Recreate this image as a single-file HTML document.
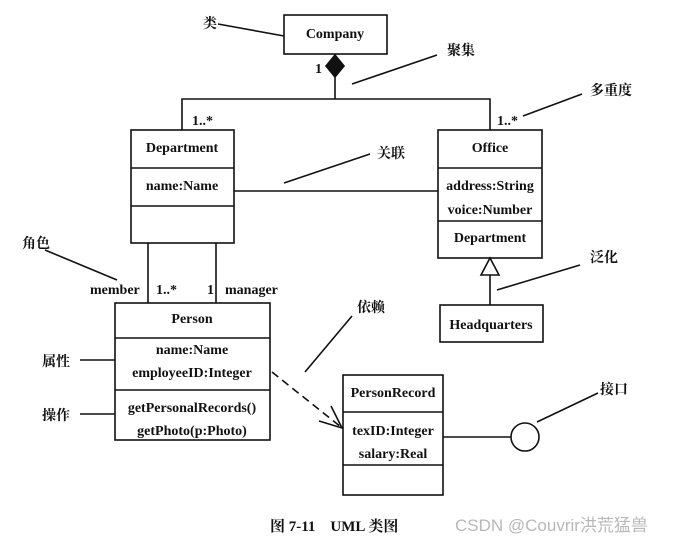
<!DOCTYPE html>
<html><head><meta charset="utf-8"><style>
body{margin:0;background:#fff}
svg{display:block}
text{font-family:"Liberation Serif","Noto Serif CJK SC",serif;font-size:14px;fill:#111;font-weight:bold}
.c{font-family:"Liberation Sans","Noto Sans CJK SC",sans-serif;font-weight:bold;font-size:14px}
</style></head><body>
<svg width="679" height="544" viewBox="0 0 679 544" xmlns="http://www.w3.org/2000/svg">
<g stroke="#111" stroke-width="1.6" fill="none">
<rect x="284" y="15" width="103" height="39"/>
<polygon points="335,55 344,66 335,77 326,66" fill="#111"/>
<line x1="335" y1="77" x2="335" y2="99"/>
<polyline points="182,130 182,99 490,99 490,130"/>
<rect x="131" y="130" width="103" height="113"/>
<line x1="131" y1="168" x2="234" y2="168"/>
<line x1="131" y1="206" x2="234" y2="206"/>
<rect x="438" y="130" width="104" height="128"/>
<line x1="438" y1="168" x2="542" y2="168"/>
<line x1="438" y1="221" x2="542" y2="221"/>
<line x1="234" y1="191" x2="438" y2="191"/>
<polygon points="490,258 499,275 481,275" fill="#fff"/>
<line x1="490" y1="275" x2="490" y2="305"/>
<rect x="440" y="305" width="103" height="37"/>
<line x1="148" y1="243" x2="148" y2="303"/>
<line x1="216" y1="243" x2="216" y2="303"/>
<rect x="115" y="303" width="155" height="137"/>
<line x1="115" y1="338" x2="270" y2="338"/>
<line x1="115" y1="390" x2="270" y2="390"/>
<rect x="343" y="375" width="100" height="120"/>
<line x1="343" y1="412" x2="443" y2="412"/>
<line x1="343" y1="465" x2="443" y2="465"/>
<line x1="272" y1="372" x2="341" y2="427" stroke-dasharray="8,5"/>
<polyline points="331,406 342,428 319,421"/>
<line x1="443" y1="437" x2="511" y2="437"/>
<circle cx="525" cy="437" r="14"/>
<line x1="218" y1="24" x2="284" y2="36"/>
<line x1="352" y1="84" x2="437" y2="55"/>
<line x1="523" y1="116" x2="582" y2="94"/>
<line x1="284" y1="183" x2="370" y2="154"/>
<line x1="45" y1="250" x2="117" y2="280"/>
<line x1="305" y1="372" x2="352" y2="316"/>
<line x1="80" y1="360" x2="115" y2="360"/>
<line x1="80" y1="414" x2="115" y2="414"/>
<line x1="497" y1="290" x2="580" y2="265"/>
<line x1="537" y1="422" x2="598" y2="393"/>
</g>
<g text-anchor="middle">
<text x="335" y="38">Company</text>
<text x="182" y="152">Department</text>
<text x="182" y="190">name:Name</text>
<text x="490" y="152">Office</text>
<text x="490" y="190">address:String</text>
<text x="490" y="214">voice:Number</text>
<text x="490" y="242">Department</text>
<text x="491" y="329">Headquarters</text>
<text x="192" y="323">Person</text>
<text x="192" y="354">name:Name</text>
<text x="192" y="377">employeeID:Integer</text>
<text x="192" y="412">getPersonalRecords()</text>
<text x="192" y="435">getPhoto(p:Photo)</text>
<text x="393" y="397">PersonRecord</text>
<text x="393" y="435">texID:Integer</text>
<text x="393" y="458">salary:Real</text>
</g>
<text x="315" y="73">1</text>
<text x="192" y="125">1..*</text>
<text x="497" y="125">1..*</text>
<text x="90" y="294">member</text>
<text x="156" y="294">1..*</text>
<text x="207" y="294">1</text>
<text x="225" y="294">manager</text>
<g class="c">
<text x="203" y="28">类</text>
<text x="447" y="55">聚集</text>
<text x="590" y="95">多重度</text>
<text x="377" y="158">关联</text>
<text x="22" y="248">角色</text>
<text x="357" y="312">依赖</text>
<text x="42" y="366">属性</text>
<text x="42" y="420">操作</text>
<text x="590" y="262">泛化</text>
<text x="600" y="394">接口</text>
</g>
<text x="270" y="531" style="font-size:15px">图 7-11　UML 类图</text>
<text x="455" y="531" style="fill:#b8b8b8;font-weight:normal;font-family:'Liberation Sans','Noto Sans CJK SC',sans-serif;font-size:17px">CSDN @Couvrir洪荒猛兽</text>
</svg>
</body></html>
